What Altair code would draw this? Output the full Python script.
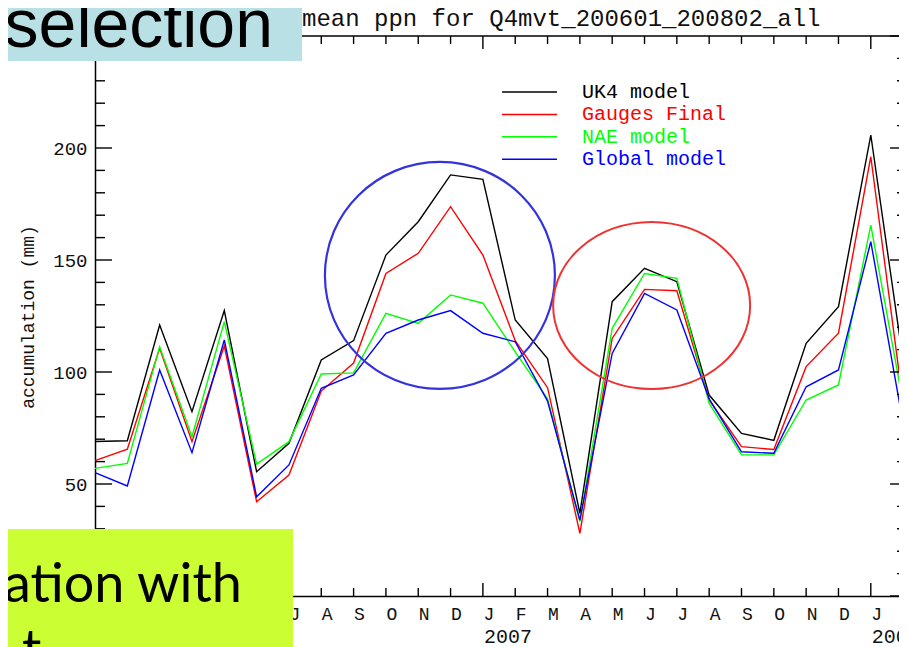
import altair as alt
import pandas as pd

# ---------------- data ----------------
month_letters = ["J", "F", "M", "A", "M", "J", "J", "A", "S", "O", "N", "D",
                 "J", "F", "M", "A", "M", "J", "J", "A", "S", "O", "N", "D",
                 "J", "F"]
month_index = list(range(len(month_letters)))   # Jan 2006 .. Feb 2008
years = ["2006", "2007", "2008"]
year_month_index = [0, 12, 24]

series_names = ["UK4 model", "Gauges Final", "NAE model", "Global model"]
series_colors = ["#000000", "#ff0000", "#00ff00", "#0000ff"]

uk4 = [69.0, 69.3, 121.0, 82.3, 127.4, 55.5, 68.2, 105.4, 114.0, 152.2, 167.1, 188.0,
       186.0, 123.2, 106.0, 36.9, 131.4, 146.3, 140.3, 89.7, 72.6, 69.5, 112.8, 129.2,
       205.8, 105.0]
gauges = [60.4, 65.5, 110.6, 68.9, 111.6, 42.1, 54.0, 91.5, 104.0, 144.0, 153.0, 173.8,
          152.2, 114.0, 93.0, 28.0, 115.0, 136.9, 136.3, 87.5, 66.7, 65.4, 102.4, 117.3,
          196.1, 86.0]
nae = [57.0, 59.2, 111.3, 71.1, 122.5, 58.9, 68.9, 99.1, 99.6, 126.2, 121.7, 134.4,
       130.7, 109.0, 88.0, 33.2, 119.5, 144.0, 141.8, 86.0, 63.0, 63.0, 87.5, 94.2,
       165.6, 86.0]
global_model = [55.1, 49.1, 100.9, 64.0, 114.3, 44.3, 58.5, 92.7, 98.7, 117.3, 123.2, 127.4,
                117.3, 113.5, 87.0, 33.9, 108.3, 135.1, 127.7, 88.0, 64.4, 63.7, 93.4, 100.9,
                158.2, 77.0]
series_values = [uk4, gauges, nae, global_model]

y_tick_values = list(range(0, 251, 10))
y_label_values = list(range(0, 251, 50))

title_text = ["mean ppn for Q4mvt_200601_200802_all"]
y_title_text = ["accumulation (mm)"]
overlay_top_text = ["selection"]
overlay_bottom_text = ["ation with", "t"]

# highlighted regions (centre month index, centre value)
circle_month = [10.67, 17.22]
circle_value = [143.1, 129.7]

# ---------------- layout ----------------
W = 804             # visible plot width (up to the page edge)
H = 560
FULL_W = 812        # full axis length (extends past the page edge)
xs = alt.Scale(domain=[0, 25.12], range=[0, FULL_W], nice=False, zero=False)
ys = alt.Scale(domain=[0, 250], nice=False, zero=False)
MONO = "Liberation Mono"
INK = "#111111"

label_expr = "[" + ",".join("'%s'" % m for m in month_letters) + "][datum.value]"
xaxis = alt.Axis(values=month_index, labelExpr=label_expr, ticks=False, tickSize=0,
                 grid=False, title=None, domainColor="black", domainWidth=1.5,
                 labelAlign="left", labelBaseline="top", labelPadding=9,
                 labelFont=MONO, labelFontSize=18, labelColor=INK,
                 labelFlush=False, labelOverlap=False, zindex=0)
yaxis = alt.Axis(values=y_label_values, ticks=False, tickSize=0, grid=False, title=None,
                 domainColor="black", domainWidth=1.5, labelPadding=8,
                 labelFont=MONO, labelFontSize=19, labelColor=INK,
                 labelFlush=False, labelOverlap=False, zindex=0)

X = lambda f: alt.X(f, scale=xs, axis=xaxis)
Y = lambda f: alt.Y(f, scale=ys, axis=yaxis)

one = pd.DataFrame({"k": [0]})
layers = []

# series lines
for name, color, vals in zip(series_names, series_colors, series_values):
    d = pd.DataFrame({"idx": month_index, "value": vals, "series": name})
    layers.append(alt.Chart(d).mark_line(color=color, strokeWidth=1.4)
                  .encode(x=X("idx:Q"), y=Y("value:Q")))

# highlight ellipses
ell_blue = "M-1,0A1,0.987,0,1,0,1,0A1,0.987,0,1,0,-1,0Z"
ell_red = "M-1,0A1,0.848,0,1,0,1,0A1,0.848,0,1,0,-1,0Z"
cdf = pd.DataFrame({"m": circle_month, "v": circle_value})
layers.append(alt.Chart(cdf.iloc[[0]]).mark_point(shape=ell_blue, size=52900, filled=False,
                                                  strokeWidth=2.2, color="#3333dd", opacity=1)
              .encode(x=X("m:Q"), y=Y("v:Q")))
layers.append(alt.Chart(cdf.iloc[[1]]).mark_point(shape=ell_red, size=38809, filled=False,
                                                  strokeWidth=2.0, color="#ee3333", opacity=1)
              .encode(x=X("m:Q"), y=Y("v:Q")))

# x ticks (bottom and top, pointing inward)
xt = pd.DataFrame({"idx": month_index, "major": [i in year_month_index for i in month_index]})
for d, ln in [(xt[~xt.major], 8), (xt[xt.major], 13)]:
    layers.append(alt.Chart(d).mark_rule(color="black", strokeWidth=1.4)
                  .encode(x=X("idx:Q"), y=alt.value(H), y2=alt.value(H - ln)))
    layers.append(alt.Chart(d).mark_rule(color="black", strokeWidth=1.4)
                  .encode(x=X("idx:Q"), y=alt.value(0), y2=alt.value(ln)))

# y ticks (left and right, pointing inward)
yt = pd.DataFrame({"v": y_tick_values, "major": [v in y_label_values for v in y_tick_values]})
for d, ln in [(yt[~yt.major], 10), (yt[yt.major], 17)]:
    layers.append(alt.Chart(d).mark_rule(color="black", strokeWidth=1.4)
                  .encode(y=Y("v:Q"), x=alt.value(0), x2=alt.value(ln)))
    layers.append(alt.Chart(d).mark_rule(color="black", strokeWidth=1.4)
                  .encode(y=Y("v:Q"), x=alt.value(FULL_W), x2=alt.value(FULL_W - ln)))

# top frame line
layers.append(alt.Chart(one).mark_rule(color="black", strokeWidth=1.5)
              .encode(x=alt.value(0), x2=alt.value(FULL_W), y=alt.value(0)))

# year labels
ydf = pd.DataFrame({"idx": year_month_index, "year": years})
layers.append(alt.Chart(ydf).mark_text(align="left", baseline="middle", dx=1, font=MONO,
                                       fontSize=20, color=INK)
              .encode(x=X("idx:Q"), y=alt.value(601), text="year:N"))

# title
layers.append(alt.Chart(pd.DataFrame({"t": title_text})).mark_text(
    align="left", baseline="alphabetic", font=MONO, fontSize=24, color=INK)
    .encode(x=alt.value(207), y=alt.value(-10), text="t:N"))

# y axis title
layers.append(alt.Chart(pd.DataFrame({"t": y_title_text})).mark_text(
    align="center", baseline="middle", angle=270, font=MONO, fontSize=18, color=INK)
    .encode(x=alt.value(-66), y=alt.value(281), text="t:N"))

# legend
for i, (name, color) in enumerate(zip(series_names, series_colors)):
    yy = 56 + i * 22.4
    layers.append(alt.Chart(one).mark_rule(color=color, strokeWidth=1.5)
                  .encode(x=alt.value(407), x2=alt.value(462), y=alt.value(yy)))
    layers.append(alt.Chart(pd.DataFrame({"t": [name]})).mark_text(
        align="left", baseline="middle", font=MONO, fontSize=20, color=color)
        .encode(x=alt.value(487), y=alt.value(yy), text="t:N"))

# slide overlay boxes
layers.append(alt.Chart(one).mark_rect(color="#b9e0e4")
              .encode(x=alt.value(-95), x2=alt.value(207), y=alt.value(-36), y2=alt.value(25)))
layers.append(alt.Chart(pd.DataFrame({"t": overlay_top_text})).mark_text(
    align="right", baseline="alphabetic", font="Liberation Sans", fontSize=68, color="black")
    .encode(x=alt.value(178), y=alt.value(11), text="t:N"))
layers.append(alt.Chart(one).mark_rect(color="#ccff33")
              .encode(x=alt.value(-95), x2=alt.value(198), y=alt.value(493), y2=alt.value(615)))
layers.append(alt.Chart(pd.DataFrame({"t": overlay_bottom_text[:1]})).mark_text(
    align="right", baseline="alphabetic", font="Lato", fontSize=54, color="black")
    .encode(x=alt.value(147), y=alt.value(566), text="t:N"))
layers.append(alt.Chart(pd.DataFrame({"t": overlay_bottom_text[1:]})).mark_text(
    align="left", baseline="alphabetic", font="Lato", fontSize=54, color="black")
    .encode(x=alt.value(-73), y=alt.value(632), text="t:N"))

chart = alt.layer(*layers).properties(
    width=W, height=H,
    autosize=alt.AutoSizeParams(type="none"),
    padding={"left": 87, "top": 28, "right": 0, "bottom": 51},
    background="white",
).configure_view(stroke=None)

chart.save("out.html", embed_options={"renderer": "svg", "actions": False})
